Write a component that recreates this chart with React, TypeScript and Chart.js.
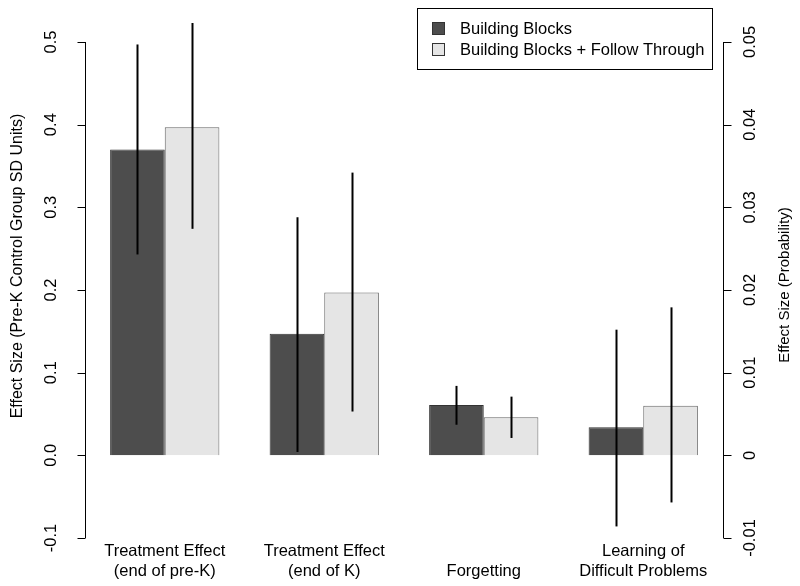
import React, { useEffect, useRef } from "react";
import { Chart, registerables } from "chart.js";

Chart.register(...registerables);

const categories: string[][] = [
  ["Treatment Effect", "(end of pre-K)"],
  ["Treatment Effect", "(end of K)"],
  ["", "Forgetting"],
  ["Learning of", "Difficult Problems"],
];
const seriesNames = ["Building Blocks", "Building Blocks + Follow Through"];
const bbValues = [0.370, 0.147, 0.061, 0.034];
const ftValues = [0.397, 0.197, 0.046, 0.060];
const bbLower = [0.243, 0.004, 0.037, -0.086];
const bbUpper = [0.497, 0.288, 0.084, 0.152];
const ftLower = [0.274, 0.053, 0.021, -0.057];
const ftUpper = [0.523, 0.342, 0.071, 0.179];
const leftTicks = [-0.1, 0.0, 0.1, 0.2, 0.3, 0.4, 0.5];
const leftTickLabels = ["-0.1", "0.0", "0.1", "0.2", "0.3", "0.4", "0.5"];
const rightTicks = [-0.01, 0, 0.01, 0.02, 0.03, 0.04, 0.05];
const rightTickLabels = ["-0.01", "0", "0.01", "0.02", "0.03", "0.04", "0.05"];
const leftTitle = "Effect Size (Pre-K Control Group SD Units)";
const rightTitle = "Effect Size (Probability)";

const FONT = "'Liberation Sans', Arial, sans-serif";
const FS = 16.5;
const DARK = "#4d4d4d";
const LIGHT = "#e5e5e5";

const Y_MIN = -0.1;
const Y_MAX = 0.5266;

const overlay = {
  id: "overlay",
  afterDatasetsDraw(chart: any) {
    const ctx = chart.ctx;
    const y = chart.scales.y;
    const y2 = chart.scales.y2;
    const area = chart.chartArea;
    ctx.save();
    // error bars
    const lows = [bbLower, ftLower];
    const highs = [bbUpper, ftUpper];
    ctx.strokeStyle = "#000";
    ctx.lineWidth = 2;
    for (let d = 0; d < 2; d++) {
      const meta = chart.getDatasetMeta(d);
      meta.data.forEach((el: any, i: number) => {
        const x = Math.round(el.x) + 0.5;
        ctx.beginPath();
        ctx.moveTo(x, y.getPixelForValue(lows[d][i]));
        ctx.lineTo(x, y.getPixelForValue(highs[d][i]));
        ctx.stroke();
      });
    }
    // left axis
    ctx.lineWidth = 1;
    ctx.strokeStyle = "#000";
    const lx = area.left + 0.5;
    ctx.beginPath();
    ctx.moveTo(lx, y.getPixelForValue(leftTicks[0]));
    ctx.lineTo(lx, y.getPixelForValue(leftTicks[leftTicks.length - 1]));
    leftTicks.forEach((v) => {
      const py = Math.round(y.getPixelForValue(v)) + 0.5;
      ctx.moveTo(lx, py);
      ctx.lineTo(lx - 8, py);
    });
    ctx.stroke();
    ctx.fillStyle = "#000";
    ctx.font = `${FS}px ${FONT}`;
    ctx.textAlign = "center";
    ctx.textBaseline = "middle";
    leftTicks.forEach((v, i) => {
      ctx.save();
      ctx.translate(lx - 34, y.getPixelForValue(v));
      ctx.rotate(-Math.PI / 2);
      ctx.fillText(leftTickLabels[i], 0, 0);
      ctx.restore();
    });
    ctx.save();
    ctx.font = `16px ${FONT}`;
    ctx.translate(18, y.getPixelForValue(0.229));
    ctx.rotate(-Math.PI / 2);
    ctx.fillText(leftTitle, 0, 0);
    ctx.restore();
    // right axis
    const rx = area.right + 0.5;
    ctx.beginPath();
    ctx.moveTo(rx, y2.getPixelForValue(rightTicks[0]));
    ctx.lineTo(rx, y2.getPixelForValue(rightTicks[rightTicks.length - 1]));
    rightTicks.forEach((v) => {
      const py = Math.round(y2.getPixelForValue(v)) + 0.5;
      ctx.moveTo(rx, py);
      ctx.lineTo(rx + 8, py);
    });
    ctx.stroke();
    rightTicks.forEach((v, i) => {
      ctx.save();
      ctx.translate(rx + 27, y2.getPixelForValue(v));
      ctx.rotate(-Math.PI / 2);
      ctx.fillText(rightTickLabels[i], 0, 0);
      ctx.restore();
    });
    ctx.save();
    ctx.font = `15px ${FONT}`;
    ctx.translate(785, y2.getPixelForValue(0.0206));
    ctx.rotate(-Math.PI / 2);
    ctx.fillText(rightTitle, 0, 0);
    ctx.restore();
    // legend
    const bx = 417.5, by = 8.5, bw = 295, bh = 61;
    ctx.fillStyle = "#fff";
    ctx.fillRect(bx, by, bw, bh);
    ctx.strokeStyle = "#000";
    ctx.strokeRect(bx, by, bw, bh);
    const fills = [DARK, LIGHT];
    ctx.textAlign = "left";
    seriesNames.forEach((name, i) => {
      const cy = 28 + i * 21;
      ctx.fillStyle = fills[i];
      ctx.fillRect(432.5, cy - 5.5, 12, 12);
      ctx.strokeStyle = "#333";
      ctx.strokeRect(432.5, cy - 5.5, 12, 12);
      ctx.fillStyle = "#000";
      ctx.fillText(name, 460, cy + 1);
    });
    ctx.restore();
  },
};

export default function App() {
  const ref = useRef<HTMLCanvasElement | null>(null);
  useEffect(() => {
    if (!ref.current) return;
    const chart = new Chart(ref.current, {
      type: "bar",
      data: {
        labels: categories,
        datasets: [
          {
            label: seriesNames[0],
            data: bbValues,
            backgroundColor: DARK,
            borderColor: "#333",
            borderWidth: 1,
            yAxisID: "y",
          },
          {
            label: seriesNames[1],
            data: ftValues,
            backgroundColor: LIGHT,
            borderColor: "#666",
            borderWidth: 1,
            yAxisID: "y",
          },
        ],
      },
      options: {
        animation: false,
        responsive: false,
        maintainAspectRatio: false,
        layout: { padding: { left: 85, right: 77, top: 20, bottom: 0 } },
        datasets: { bar: { categoryPercentage: 0.685, barPercentage: 1 } },
        plugins: { legend: { display: false }, tooltip: { enabled: false } },
        scales: {
          x: {
            grid: { display: false, drawTicks: false },
            border: { display: false },
            afterFit: (scale: any) => {
              scale.height = 48;
            },
            ticks: {
              color: "#000",
              padding: 4,
              maxRotation: 0,
              autoSkip: false,
              font: { family: FONT, size: FS, lineHeight: 1.2 },
            },
          },
          y: { display: false, min: Y_MIN, max: Y_MAX },
          y2: { display: false, min: Y_MIN / 10, max: Y_MAX / 10 },
        },
      },
      plugins: [overlay],
    });
    return () => chart.destroy();
  }, []);
  return (
    <div style={{ position: "fixed", left: 0, top: 0, width: 800, height: 586, background: "#fff" }}>
      <canvas ref={ref} width={800} height={586} style={{ width: 800, height: 586 }} />
    </div>
  );
}
